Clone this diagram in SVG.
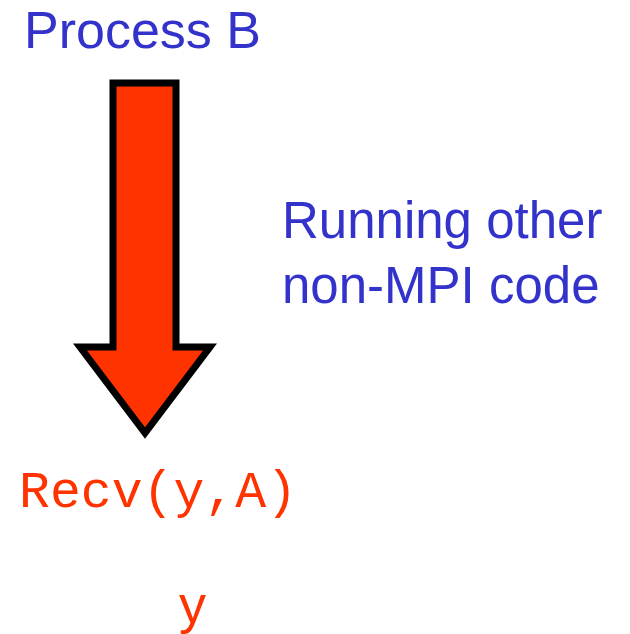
<svg xmlns="http://www.w3.org/2000/svg" width="630" height="634" viewBox="0 0 630 634">
  <style>
    .blue { fill: #3333CC; font-family: "Liberation Sans", Arial, sans-serif; }
    .red { fill: #FF3300; }
    .mono { font-family: "Liberation Mono", "Courier New", monospace; }
    .sans { font-family: "Liberation Sans", Arial, sans-serif; }
  </style>
  <rect width="630" height="634" fill="#FFFFFF"/>
  <g id="title">
    <text class="blue" x="24" y="48" font-size="52">Process B</text>
  </g>
  <g id="flow-arrow">
    <polygon points="113,83 176,83 176,347 210,347 145,433 80,347 113,347" fill="#FF3300" stroke="#000000" stroke-width="7" stroke-linejoin="miter"/>
  </g>
  <g id="note">
    <text class="blue" x="282" y="238" font-size="51">Running other</text>
    <text class="blue" x="282" y="303" font-size="51">non-MPI code</text>
  </g>
  <g id="recv">
    <text class="red mono" x="19" y="507" font-size="51.5">Recv(y,A)</text>
  </g>
  <g id="var-y">
    <text class="red sans" x="179" y="623" font-size="54">y</text>
  </g>
</svg>
